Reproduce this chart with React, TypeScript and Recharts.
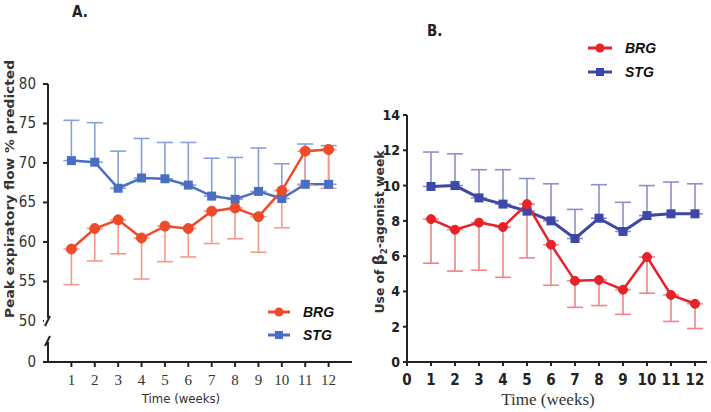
import React from 'react';
import { LineChart, Line, XAxis, YAxis, ErrorBar, Legend } from 'recharts';

// ---------- data ----------
const weeks = [1, 2, 3, 4, 5, 6, 7, 8, 9, 10, 11, 12];

// Panel A: Peak expiratory flow % predicted
const pefBRG = [59.1, 61.7, 62.8, 60.5, 62.0, 61.7, 63.9, 64.3, 63.2, 66.5, 71.5, 71.7];
const pefBRGLow = [54.6, 57.6, 58.5, 55.3, 57.5, 58.1, 59.8, 60.4, 58.7, 61.8, 67.2, 66.8];
const pefSTG = [70.3, 70.1, 66.8, 68.1, 68.0, 67.2, 65.8, 65.4, 66.4, 65.5, 67.3, 67.3];
const pefSTGHigh = [75.4, 75.1, 71.5, 73.1, 72.6, 72.6, 70.6, 70.7, 71.9, 69.9, 72.4, 72.2];
const pefYTicks = [44.8, 50, 55, 60, 65, 70, 75, 80];
const pefXTicks = [1, 2, 3, 4, 5, 6, 7, 8, 9, 10, 11, 12];

// Panel B: Use of beta2-agonist / week
const b2BRG = [8.1, 7.5, 7.9, 7.65, 8.95, 6.65, 4.6, 4.65, 4.1, 5.95, 3.8, 3.3];
const b2BRGLow = [5.6, 5.15, 5.2, 4.8, 5.9, 4.35, 3.1, 3.2, 2.7, 3.9, 2.3, 1.9];
const b2STG = [9.95, 10.0, 9.3, 8.95, 8.55, 8.0, 7.0, 8.15, 7.4, 8.3, 8.4, 8.4];
const b2STGHigh = [11.9, 11.8, 10.9, 10.9, 10.4, 10.1, 8.65, 10.05, 9.05, 10.0, 10.2, 10.1];
const b2YTicks = [0, 2, 4, 6, 8, 10, 12, 14];
const b2XTicks = [0, 1, 2, 3, 4, 5, 6, 7, 8, 9, 10, 11, 12];

const pefData = weeks.map((w, i) => ({
  week: w,
  BRG: pefBRG[i],
  brgErr: [pefBRG[i] - pefBRGLow[i], 0],
  STG: pefSTG[i],
  stgErr: [0, pefSTGHigh[i] - pefSTG[i]],
}));

const b2Data = weeks.map((w, i) => ({
  week: w,
  BRG: b2BRG[i],
  brgErr: [b2BRG[i] - b2BRGLow[i], 0],
  STG: b2STG[i],
  stgErr: [0, b2STGHigh[i] - b2STG[i]],
}));

// ---------- styles ----------
const A_RED = '#ef4a2a';
const A_RED_ERR = '#f59a86';
const A_BLUE = '#4a6fc2';
const A_BLUE_ERR = '#86a0d8';
const B_RED = '#e8222a';
const B_RED_ERR = '#f08488';
const B_BLUE = '#3c47a8';
const B_BLUE_ERR = '#8a90cc';
const AXIS = '#222';

const squareDot = (color: string, size: number) => (props: any) => {
  const { cx, cy, index } = props;
  if (cx == null || cy == null) return <g key={index} />;
  return <rect key={index} x={cx - size / 2} y={cy - size / 2} width={size} height={size} fill={color} />;
};

const LeftYTick = (props: any) => {
  const { x, y, payload } = props;
  const zero = payload.value < 45;
  const ax = x + 12;
  return (
    <g>
      {zero && (
        <g>
          <rect x={ax - 4} y={y - 46} width={8} height={30} fill="#fff" />
          <line x1={ax} y1={y - 50} x2={ax} y2={y - 44} stroke={AXIS} strokeWidth={2} />
          <line x1={ax + 2} y1={y - 46} x2={ax - 3} y2={y - 36} stroke={AXIS} strokeWidth={2} />
          <line x1={ax + 2} y1={y - 26} x2={ax - 3} y2={y - 16} stroke={AXIS} strokeWidth={2} />
          <line x1={ax} y1={y - 20} x2={ax} y2={y} stroke={AXIS} strokeWidth={2} />
        </g>
      )}
      <text
        x={x}
        y={y}
        dy={5}
        textAnchor="end"
        fontFamily="'Liberation Sans Narrow', 'DejaVu Sans Condensed', sans-serif"
        fontSize={15}
        fill="#333"
      >
        {zero ? '0' : payload.value}
      </text>
    </g>
  );
};

const legendContent = (red: string, blue: string, lineW: number, rowGap: number) => () => (
  <svg width={110} height={60} style={{ display: 'block' }}>
    {[
      { name: 'BRG', color: red, y: 12, sq: false },
      { name: 'STG', color: blue, y: 12 + rowGap, sq: true },
    ].map((it) => (
      <g key={it.name}>
        <line x1={8} y1={it.y} x2={8 + lineW} y2={it.y} stroke={it.color} strokeWidth={3} />
        {it.sq ? (
          <rect x={8 + lineW / 2 - 4} y={it.y - 4} width={8} height={8} fill={it.color} />
        ) : (
          <circle cx={8 + lineW / 2} cy={it.y} r={4.5} fill={it.color} />
        )}
        <text
          x={8 + lineW + 13}
          y={it.y + 5}
          fontFamily="'Liberation Sans', Arial, sans-serif"
          fontWeight="bold"
          fontStyle="italic"
          fontSize={14}
          fill="#111"
        >
          {it.name}
        </text>
      </g>
    ))}
  </svg>
);

export default function App() {
  return (
    <div style={{ position: 'absolute', left: 0, top: 0, width: 711, height: 412, background: '#fff', overflow: 'hidden' }}>
      {/* Panel A */}
      <div style={{ position: 'absolute', left: 0, top: 0 }}>
        <LineChart width={360} height={412} data={pefData} margin={{ top: 24, right: 8, left: 18, bottom: 0 }}>
          <XAxis
            dataKey="week"
            type="number"
            domain={[0, 13]}
            ticks={pefXTicks}
            allowDataOverflow
            height={50}
            stroke={AXIS}
            strokeWidth={2}
            tickSize={5}
            tickMargin={7}
            tick={{ fontFamily: "'Liberation Serif', 'Times New Roman', serif", fontSize: 15, fill: '#333' }}
            label={{
              value: 'Time (weeks)',
              position: 'insideBottom',
              offset: 9,
              dx: -19,
              style: { fontFamily: "'Liberation Sans Narrow', 'DejaVu Sans Condensed', sans-serif", fontSize: 13, fill: '#333' },
            }}
          />
          <YAxis
            type="number"
            domain={[44.8, 80]}
            ticks={pefYTicks}
            allowDataOverflow
            width={30}
            stroke={AXIS}
            strokeWidth={2}
            tickSize={5}
            tickMargin={7}
            tick={<LeftYTick />}
          />
          <Legend
            verticalAlign="top"
            align="left"
            content={legendContent(A_RED, A_BLUE, 22, 23)}
            wrapperStyle={{ position: 'absolute', left: 260, top: 300, width: 110, height: 60 }}
          />
          <Line
            dataKey="STG"
            stroke={A_BLUE}
            strokeWidth={2.5}
            dot={squareDot(A_BLUE, 9)}
            isAnimationActive={false}
          >
            <ErrorBar dataKey="stgErr" direction="y" width={8} stroke={A_BLUE_ERR} strokeWidth={1.6} isAnimationActive={false} />
          </Line>
          <Line
            dataKey="BRG"
            stroke={A_RED}
            strokeWidth={2.5}
            dot={{ r: 5, fill: A_RED, stroke: A_RED, strokeWidth: 1 }}
            isAnimationActive={false}
          >
            <ErrorBar dataKey="brgErr" direction="y" width={8} stroke={A_RED_ERR} strokeWidth={1.6} isAnimationActive={false} />
          </Line>
        </LineChart>
      </div>

      {/* Panel B */}
      <div style={{ position: 'absolute', left: 355, top: 0 }}>
        <LineChart width={356} height={412} data={b2Data} margin={{ top: 55, right: 4, left: 22, bottom: 0 }}>
          <XAxis
            dataKey="week"
            type="number"
            domain={[0, 12.5]}
            ticks={b2XTicks}
            allowDataOverflow
            height={50}
            stroke={AXIS}
            strokeWidth={2}
            tickSize={4}
            tickMargin={8}
            tick={{ fontFamily: "'Liberation Sans Narrow', 'DejaVu Sans Condensed', sans-serif", fontWeight: 'bold', fontSize: 15, fill: '#222' }}
            label={{
              value: 'Time (weeks)',
              position: 'insideBottom',
              offset: 7,
              dx: -9,
              style: { fontFamily: "'Liberation Serif', 'Times New Roman', serif", fontSize: 17, fill: '#333' },
            }}
          />
          <YAxis
            type="number"
            domain={[0, 14]}
            ticks={b2YTicks}
            width={30}
            stroke={AXIS}
            strokeWidth={2}
            tickSize={4}
            tickMargin={3}
            tick={{ fontFamily: "'Liberation Sans Narrow', 'DejaVu Sans Condensed', sans-serif", fontWeight: 'bold', fontSize: 14, fill: '#222' }}
          />
          <Legend
            verticalAlign="top"
            align="left"
            content={legendContent(B_RED, B_BLUE, 24, 24)}
            wrapperStyle={{ position: 'absolute', left: 225, top: 36, width: 110, height: 60 }}
          />
          <Line
            dataKey="STG"
            stroke={B_BLUE}
            strokeWidth={3}
            dot={squareDot(B_BLUE, 9)}
            isAnimationActive={false}
          >
            <ErrorBar dataKey="stgErr" direction="y" width={8} stroke={B_BLUE_ERR} strokeWidth={1.6} isAnimationActive={false} />
          </Line>
          <Line
            dataKey="BRG"
            stroke={B_RED}
            strokeWidth={2.5}
            dot={{ r: 4.5, fill: B_RED, stroke: B_RED, strokeWidth: 1 }}
            isAnimationActive={false}
          >
            <ErrorBar dataKey="brgErr" direction="y" width={8} stroke={B_RED_ERR} strokeWidth={1.6} isAnimationActive={false} />
          </Line>
        </LineChart>
      </div>

      {/* Titles and axis labels */}
      <svg width={711} height={412} style={{ position: 'absolute', left: 0, top: 0, pointerEvents: 'none' }}>
        <text x={72} y={17} fontFamily="'Liberation Sans Narrow', 'DejaVu Sans Condensed', sans-serif" fontWeight="bold" fontSize={15} fill="#222">A.</text>
        <text x={427} y={36} fontFamily="'Liberation Sans Narrow', 'DejaVu Sans Condensed', sans-serif" fontWeight="bold" fontSize={15} fill="#222">B.</text>
        <text
          transform="translate(14,189) rotate(-90)"
          textAnchor="middle"
          fontFamily="'DejaVu Sans', sans-serif"
          fontWeight="bold"
          fontSize={12.5}
          fill="#333"
          textLength={258}
          lengthAdjust="spacingAndGlyphs"
        >
          Peak expiratory flow % predicted
        </text>
        <text
          transform="translate(384,232) rotate(-90)"
          textAnchor="middle"
          fontFamily="'Liberation Sans Narrow', 'DejaVu Sans Condensed', sans-serif"
          fontWeight="bold"
          fontSize={13}
          fill="#333"
          textLength={163}
          lengthAdjust="spacingAndGlyphs"
        >
          Use of <tspan fontSize={16}>β</tspan><tspan fontSize={9} dy={3}>2</tspan><tspan dy={-3}>-agonist  week</tspan>
        </text>
      </svg>
    </div>
  );
}
